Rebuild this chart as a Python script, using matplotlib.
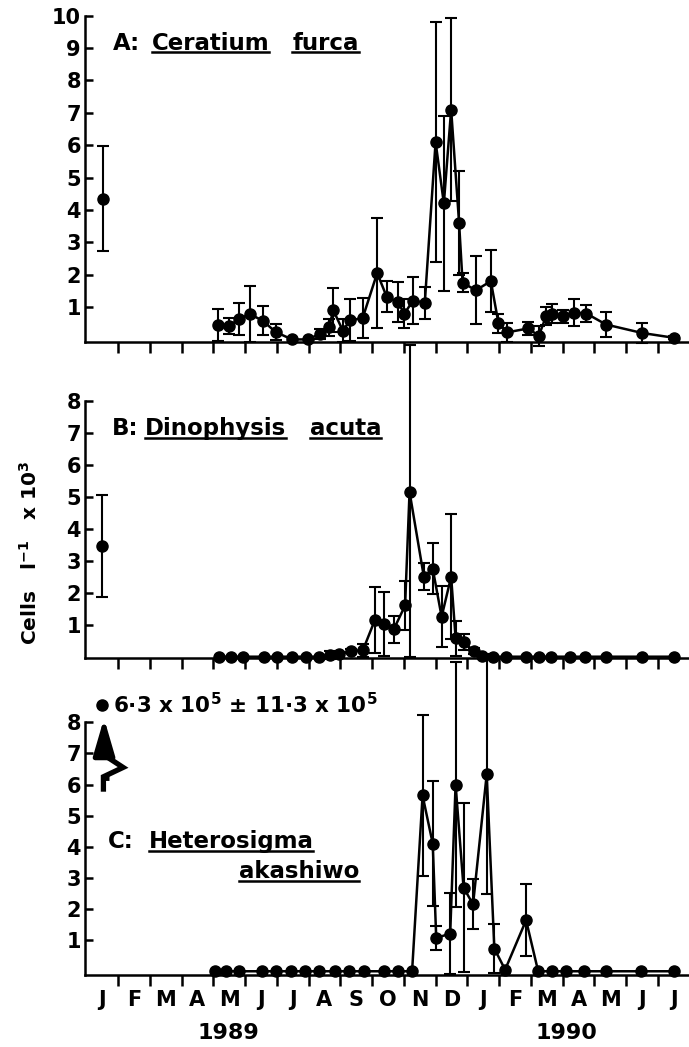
import numpy as np
import matplotlib
matplotlib.use("Agg")
import matplotlib.pyplot as plt
from matplotlib.lines import Line2D

plt.rcParams['font.family'] = ['DejaVu Sans']
plt.rcParams['font.weight'] = 'bold'
plt.rcParams['mathtext.fontset'] = 'dejavusans'
plt.rcParams['mathtext.default'] = 'bf'

# ---------------- data (x in months since 1 Jan 1989) ----------------
month_labels = ['J', 'F', 'M', 'A', 'M', 'J', 'J', 'A', 'S', 'O', 'N', 'D',
                'J', 'F', 'M', 'A', 'M', 'J', 'J']
year_labels = ['1989', '1990']

# Panel A: Ceratium furca
A_first_month, A_first_val, A_first_err = 0.52, 4.35, 1.62
A_months = [4.15, 4.51, 4.80, 5.15, 5.56, 5.96, 6.48, 6.97, 7.36, 7.64, 7.78,
            8.08, 8.31, 8.70, 9.16, 9.46, 9.81, 10.02, 10.29, 10.66, 11.00,
            11.26, 11.49, 11.74, 11.85, 12.27, 12.74, 12.98, 13.26, 13.92,
            14.25, 14.48, 14.68, 15.01, 15.36, 15.75, 16.37, 17.50, 18.51]
A_vals = [0.45, 0.42, 0.63, 0.78, 0.58, 0.23, 0.0, 0.0, 0.17, 0.37, 0.90,
          0.27, 0.60, 0.65, 2.05, 1.32, 1.15, 0.80, 1.20, 1.13, 6.10,
          4.20, 7.10, 3.60, 1.75, 1.52, 1.80, 0.50, 0.22, 0.34,
          0.11, 0.72, 0.80, 0.72, 0.83, 0.80, 0.46, 0.20, 0.05]
A_errs = [0.50, 0.25, 0.48, 0.87, 0.45, 0.25, 0.0, 0.0, 0.15, 0.25, 0.68,
          0.35, 0.65, 0.62, 1.70, 0.47, 0.62, 0.45, 0.72, 0.50, 3.70,
          2.70, 2.82, 1.60, 0.30, 1.05, 0.95, 0.30, 0.30, 0.20,
          0.30, 0.27, 0.30, 0.20, 0.42, 0.26, 0.40, 0.30, 0.05]

# Panel B: Dinophysis acuta
B_first_month, B_first_val, B_first_err = 0.50, 3.45, 1.60
B_months = [4.18, 4.55, 4.94, 5.59, 6.00, 6.49, 6.93, 7.34, 7.66, 7.97, 8.33,
            8.71, 9.09, 9.37, 9.68, 10.04, 10.18, 10.63, 10.91, 11.19, 11.49,
            11.63, 11.88, 12.22, 12.46, 12.80, 13.23, 13.84, 14.27, 14.64,
            15.24, 15.72, 16.37, 17.50, 18.51]
B_vals = [0, 0, 0, 0, 0, 0, 0, 0, 0.05, 0.08, 0.18,
          0.20, 1.15, 1.03, 0.85, 1.60, 5.15, 2.50, 2.75, 1.25, 2.50,
          0.58, 0.45, 0.17, 0.02, 0, 0, 0, 0, 0,
          0, 0, 0, 0, 0]
B_err_lo = [0, 0, 0, 0, 0, 0, 0, 0, 0.12, 0.08, 0.05,
            0.20, 1.02, 1.00, 0.42, 0.78, 5.15, 0.42, 0.80, 0.95, 1.95,
            0.55, 0.25, 0.10, 0, 0, 0, 0, 0, 0,
            0, 0, 0, 0, 0]
B_err_hi = [0, 0, 0, 0, 0, 0, 0, 0, 0.12, 0.08, 0.05,
            0.20, 1.02, 1.00, 0.42, 0.78, 4.60, 0.42, 0.80, 0.95, 1.95,
            0.55, 0.25, 0.10, 0, 0, 0, 0, 0, 0,
            0, 0, 0, 0, 0]

# Panel C: Heterosigma akashiwo (Jan 1989 value off scale)
C_first_month, C_first_mean, C_first_sd = 0.50, '6·3', '11·3'
C_months = [4.04, 4.41, 4.80, 5.52, 5.96, 6.45, 6.90, 7.34, 7.84, 8.26, 8.74,
            9.39, 9.83, 10.26, 10.59, 10.91, 11.02, 11.46, 11.63, 11.88, 12.18,
            12.61, 12.85, 13.19, 13.85, 14.23, 14.68, 15.12, 15.68, 16.37,
            17.48, 18.51]
C_vals = [0, 0, 0, 0, 0, 0, 0, 0, 0, 0, 0,
          0, 0, 0, 5.65, 4.10, 1.07, 1.21, 6.00, 2.69, 2.15,
          6.33, 0.73, 0.05, 1.64, 0, 0, 0, 0, 0,
          0, 0]
C_errs = [0, 0, 0, 0, 0, 0, 0, 0, 0, 0, 0,
          0, 0, 0, 2.60, 2.00, 0.38, 1.30, 3.95, 2.72, 0.80,
          3.85, 0.78, 0.0, 1.15, 0, 0, 0, 0, 0,
          0, 0]

# ---------------- figure ----------------
W, H = 689, 1047
fig = plt.figure(figsize=(W / 100, H / 100), dpi=100)


def rect(l, t, r, b):
    return [l / W, 1 - b / H, (r - l) / W, (b - t) / H]


axA = fig.add_axes(rect(85, 15.7, 689, 341.7))
axB = fig.add_axes(rect(85, 400.7, 689, 658.3))
axC = fig.add_axes(rect(85, 722.3, 689, 975))

LW = 1.8
for ax, ytop, ybot in [(axA, 10, -0.07), (axB, 8, -0.05), (axC, 8, -0.12)]:
    ax.set_xlim(-0.04, 18.98)
    ax.set_ylim(ybot, ytop)
    for s in ['top', 'right']:
        ax.spines[s].set_visible(False)
    for s in ['left', 'bottom']:
        ax.spines[s].set_linewidth(LW)
    ax.set_yticks(np.arange(1, ytop + 1))
    ax.set_yticklabels([str(i) for i in range(1, ytop + 1)])
    ax.tick_params(axis='y', direction='in', length=6, width=LW, labelsize=15, pad=3)
    ax.set_xticks(np.arange(1, 19))
    ax.tick_params(axis='x', which='major', direction='out', length=8, width=LW,
                   labelbottom=False)
    ax.set_facecolor('none')


def draw_series(ax, m, v, elo, ehi):
    m = np.asarray(m); v = np.asarray(v)
    elo = np.asarray(elo); ehi = np.asarray(ehi)
    ax.plot(m, v, '-o', color='k', lw=1.8, ms=8, clip_on=False, zorder=4)
    mask = (elo > 0) | (ehi > 0)
    cont = ax.errorbar(m[mask], v[mask], yerr=[elo[mask], ehi[mask]], fmt='none',
                       ecolor='k', elinewidth=1.5, capsize=4, capthick=1.5, zorder=3)
    for art in list(cont.lines[1]) + list(cont.lines[2]):
        art.set_clip_on(False)


def draw_single(ax, m, v, e):
    cont = ax.errorbar([m], [v], yerr=[e], fmt='o', color='k', ms=8,
                       elinewidth=1.5, capsize=4, capthick=1.5, zorder=4)
    for art in list(cont.lines[1]) + list(cont.lines[2]):
        art.set_clip_on(False)


draw_single(axA, A_first_month, A_first_val, A_first_err)
draw_series(axA, A_months, A_vals, A_errs, A_errs)

draw_single(axB, B_first_month, B_first_val, B_first_err)
draw_series(axB, B_months, B_vals, B_err_lo, B_err_hi)

draw_series(axC, C_months, C_vals, C_errs, C_errs)

# off-scale Jan 1989 point in panel C
off_y = axC.get_ylim()[1] + 0.55
axC.plot([C_first_month], [off_y], 'o', color='k', ms=8, clip_on=False, zorder=5)
xa = C_first_month + 0.06
axC.annotate('', xy=(xa, 8.13), xytext=(xa, 6.9),
             arrowprops=dict(arrowstyle='-|>,head_length=1.1,head_width=0.32',
                             mutation_scale=20, lw=3.6, color='k',
                             shrinkA=0, shrinkB=0),
             annotation_clip=False)
axC.plot([xa, xa + 0.6, xa - 0.02, xa - 0.02], [6.95, 6.55, 6.25, 5.77],
         color='k', lw=3.8, clip_on=False, solid_joinstyle='miter',
         solid_capstyle='butt')
axC.plot([xa - 0.02, xa + 0.16], [6.2, 6.2], color='k', lw=3.5, clip_on=False,
         solid_capstyle='butt')
fig.text(113 / W, 1 - 713 / H,
         C_first_mean + ' x 10$^5$ ± ' + C_first_sd + ' x 10$^5$',
         fontsize=15.5, va='baseline', ha='left')

# month labels on bottom panel
centers = np.arange(len(month_labels)) + 0.5
axC.set_xticks(centers, minor=True)
axC.set_xticklabels(month_labels, minor=True)
axC.tick_params(axis='x', which='minor', length=0, labelsize=15, pad=10.5,
                labelbottom=True)

# year labels
fig.text(228.5 / W, 1 - 1033 / H, year_labels[0], fontsize=16, ha='center', va='center')
fig.text(566.8 / W, 1 - 1033 / H, year_labels[1], fontsize=16, ha='center', va='center')

# y label
fig.text(30 / W, 1 - 553 / H, 'Cells   l$^{-1}$   x 10$^3$', rotation=90,
         fontsize=14.5, ha='center', va='center')

# panel titles with underlined species names
titles = [
    ('A:', 113, 49.5, [('Ceratium', 151.6, 49.5), ('furca', 292.2, 49.5)]),
    ('B:', 112, 435, [('Dinophysis', 145, 435), ('acuta', 309.8, 435)]),
    ('C:', 107.6, 848, [('Heterosigma', 148.5, 848), ('akashiwo', 238.6, 878)]),
]
under = []
for lab, x, y, names in titles:
    fig.text(x / W, 1 - y / H, lab, fontsize=16.5, va='baseline', ha='left')
    for nm, nx, ny in names:
        t = fig.text(nx / W, 1 - ny / H, nm, fontsize=16.5, va='baseline', ha='left')
        under.append((t, ny))

fig.canvas.draw()
r = fig.canvas.get_renderer()
for t, ny in under:
    bb = t.get_window_extent(r)
    yy = 1 - (ny + 2.5) / H
    fig.add_artist(Line2D([bb.x0 / W, bb.x1 / W], [yy, yy], color='k', lw=1.8,
                          transform=fig.transFigure))

fig.savefig('out.png', dpi=100)
